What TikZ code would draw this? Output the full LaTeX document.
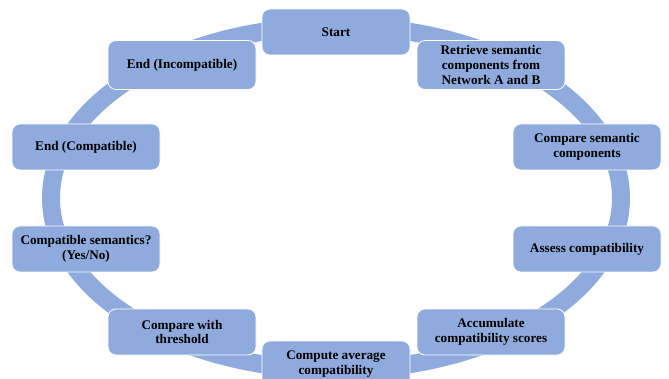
\documentclass[tikz,border=0pt]{standalone}
\usepackage{fontspec}
\setmainfont{Liberation Serif}
\usepackage{xcolor}
\usetikzlibrary{positioning}
\definecolor{ringblue}{HTML}{8FAADC}

\begin{document}
\begin{tikzpicture}[
  x=1pt, y=-1pt,
  every node/.style={font=\fontsize{13.2}{14.7}\selectfont\bfseries, align=center},
  stepbox/.style={draw=white, line width=0.8pt, fill=ringblue, rounded corners=8pt,
    minimum width=148pt, minimum height=46pt, inner sep=1pt},
  ring/.style={draw=ringblue, line width=18pt}
]
  \useasboundingbox (0,0) rectangle (669,379);
  % cycle ring behind the steps
  \draw[ring] (336,198) ellipse [x radius=285, y radius=172];

  \node[stepbox] (start) at (336,32) {Start};
  \node[stepbox, minimum height=49pt] (retrieve) at (491,65) {Retrieve semantic\\components from\\Network A and B};
  \node[stepbox] (compare) at (587,147) {Compare semantic\\components};
  \node[stepbox] (assess) at (587,249) {Assess compatibility};
  \node[stepbox] (accum) at (491,332) {Accumulate\\compatibility scores};
  \node[stepbox] (average) at (336,364) {Compute average\\compatibility};
  \node[stepbox] (threshold) at (182,332) {Compare with\\threshold};
  \node[stepbox] (decide) at (86,249) {Compatible semantics?\\(Yes/No)};
  \node[stepbox] (endyes) at (86,147) {End (Compatible)};
  \node[stepbox, minimum height=49pt] (endno) at (182,65) {End (Incompatible)};
\end{tikzpicture}
\end{document}
